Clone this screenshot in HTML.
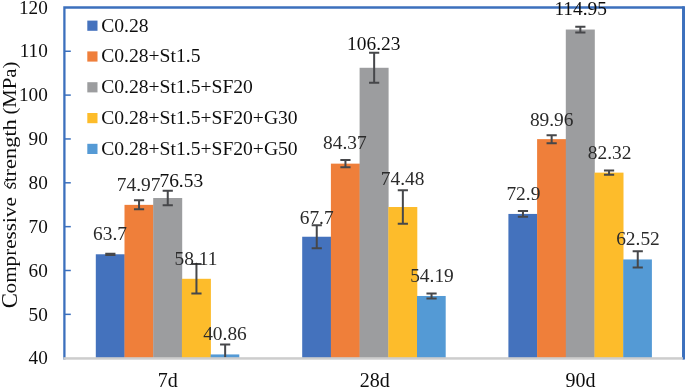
<!DOCTYPE html>
<html><head><meta charset="utf-8"><title>chart</title>
<style>
html,body{margin:0;padding:0;background:#fff;}
body{width:685px;height:389px;overflow:hidden;font-family:"Liberation Serif",serif;}
svg{display:block;}
text{font-family:"Liberation Serif",serif;}
</style></head><body>
<svg width="685" height="389" viewBox="0 0 685 389">
<rect x="0" y="0" width="685" height="389" fill="#ffffff"/>
<rect x="95.80" y="254.28" width="29.00" height="103.92" fill="#4472BD"/>
<rect x="124.50" y="204.86" width="29.00" height="153.34" fill="#EF7F3A"/>
<rect x="153.20" y="198.02" width="29.00" height="160.18" fill="#9C9D9F"/>
<rect x="181.90" y="278.79" width="29.00" height="79.41" fill="#FDBC2B"/>
<rect x="210.60" y="354.43" width="28.70" height="3.77" fill="#549AD5"/>
<rect x="302.20" y="236.74" width="29.00" height="121.46" fill="#4472BD"/>
<rect x="330.90" y="163.64" width="29.00" height="194.56" fill="#EF7F3A"/>
<rect x="359.60" y="67.78" width="29.00" height="290.42" fill="#9C9D9F"/>
<rect x="388.30" y="207.01" width="29.00" height="151.19" fill="#FDBC2B"/>
<rect x="417.00" y="295.98" width="28.70" height="62.22" fill="#549AD5"/>
<rect x="508.40" y="213.93" width="29.00" height="144.27" fill="#4472BD"/>
<rect x="537.10" y="139.13" width="29.00" height="219.07" fill="#EF7F3A"/>
<rect x="565.80" y="29.54" width="29.00" height="328.66" fill="#9C9D9F"/>
<rect x="594.50" y="172.63" width="29.00" height="185.57" fill="#FDBC2B"/>
<rect x="623.20" y="259.45" width="28.70" height="98.75" fill="#549AD5"/>
<path d="M64.4 359.6 L64.4 7.5 L683.4 7.5 L683.4 359.6" fill="none" stroke="#3C70BD" stroke-width="2.3"/>
<rect x="682.1" y="6.35" width="3" height="353" fill="#3C70BD"/>
<line x1="64" y1="314.35" x2="70.8" y2="314.35" stroke="#3C70BD" stroke-width="1.5"/>
<line x1="64" y1="270.50" x2="70.8" y2="270.50" stroke="#3C70BD" stroke-width="1.5"/>
<line x1="64" y1="226.65" x2="70.8" y2="226.65" stroke="#3C70BD" stroke-width="1.5"/>
<line x1="64" y1="182.80" x2="70.8" y2="182.80" stroke="#3C70BD" stroke-width="1.5"/>
<line x1="64" y1="138.95" x2="70.8" y2="138.95" stroke="#3C70BD" stroke-width="1.5"/>
<line x1="64" y1="95.10" x2="70.8" y2="95.10" stroke="#3C70BD" stroke-width="1.5"/>
<line x1="64" y1="51.25" x2="70.8" y2="51.25" stroke="#3C70BD" stroke-width="1.5"/>
<path d="M110.35 253.68 L110.35 254.88 M105.25 253.68 L115.45 253.68 M105.25 254.88 L115.45 254.88" stroke="#46474A" stroke-width="2" fill="none"/>
<path d="M139.05 200.36 L139.05 209.36 M133.95 200.36 L144.15 200.36 M133.95 209.36 L144.15 209.36" stroke="#46474A" stroke-width="2" fill="none"/>
<path d="M167.75 190.82 L167.75 205.22 M162.65 190.82 L172.85 190.82 M162.65 205.22 L172.85 205.22" stroke="#46474A" stroke-width="2" fill="none"/>
<path d="M196.45 263.99 L196.45 293.59 M191.35 263.99 L201.55 263.99 M191.35 293.59 L201.55 293.59" stroke="#46474A" stroke-width="2" fill="none"/>
<path d="M225.15 344.43 L225.15 357.50 M220.05 344.43 L230.25 344.43" stroke="#46474A" stroke-width="2" fill="none"/>
<path d="M316.75 225.34 L316.75 248.14 M311.65 225.34 L321.85 225.34 M311.65 248.14 L321.85 248.14" stroke="#46474A" stroke-width="2" fill="none"/>
<path d="M345.45 159.94 L345.45 167.34 M340.35 159.94 L350.55 159.94 M340.35 167.34 L350.55 167.34" stroke="#46474A" stroke-width="2" fill="none"/>
<path d="M374.15 52.78 L374.15 82.78 M369.05 52.78 L379.25 52.78 M369.05 82.78 L379.25 82.78" stroke="#46474A" stroke-width="2" fill="none"/>
<path d="M402.85 190.21 L402.85 223.81 M397.75 190.21 L407.95 190.21 M397.75 223.81 L407.95 223.81" stroke="#46474A" stroke-width="2" fill="none"/>
<path d="M431.55 293.58 L431.55 298.38 M426.45 293.58 L436.65 293.58 M426.45 298.38 L436.65 298.38" stroke="#46474A" stroke-width="2" fill="none"/>
<path d="M522.95 211.03 L522.95 216.83 M517.85 211.03 L528.05 211.03 M517.85 216.83 L528.05 216.83" stroke="#46474A" stroke-width="2" fill="none"/>
<path d="M551.65 135.13 L551.65 143.13 M546.55 135.13 L556.75 135.13 M546.55 143.13 L556.75 143.13" stroke="#46474A" stroke-width="2" fill="none"/>
<path d="M580.35 26.64 L580.35 32.44 M575.25 26.64 L585.45 26.64 M575.25 32.44 L585.45 32.44" stroke="#46474A" stroke-width="2" fill="none"/>
<path d="M609.05 170.53 L609.05 174.73 M603.95 170.53 L614.15 170.53 M603.95 174.73 L614.15 174.73" stroke="#46474A" stroke-width="2" fill="none"/>
<path d="M637.75 251.35 L637.75 267.55 M632.65 251.35 L642.85 251.35 M632.65 267.55 L642.85 267.55" stroke="#46474A" stroke-width="2" fill="none"/>
<rect x="63.4" y="357.2" width="619.5" height="2.5" fill="#CDCDCD"/>
<defs><filter id="tf" x="-5%" y="-5%" width="110%" height="110%"><feGaussianBlur stdDeviation="0.3"/></filter></defs>
<g filter="url(#tf)">
<text x="47.8" y="364.40" font-size="19.2px" text-anchor="end" fill="#111111">40</text>
<text x="47.8" y="320.55" font-size="19.2px" text-anchor="end" fill="#111111">50</text>
<text x="47.8" y="276.70" font-size="19.2px" text-anchor="end" fill="#111111">60</text>
<text x="47.8" y="232.85" font-size="19.2px" text-anchor="end" fill="#111111">70</text>
<text x="47.8" y="189.00" font-size="19.2px" text-anchor="end" fill="#111111">80</text>
<text x="47.8" y="145.15" font-size="19.2px" text-anchor="end" fill="#111111">90</text>
<text x="47.8" y="101.30" font-size="19.2px" text-anchor="end" fill="#111111">100</text>
<text x="47.8" y="57.45" font-size="19.2px" text-anchor="end" fill="#111111">110</text>
<text x="47.8" y="13.60" font-size="19.2px" text-anchor="end" fill="#111111">120</text>
<text x="167.8" y="387.2" font-size="20px" text-anchor="middle" fill="#111111">7d</text>
<text x="374.75" y="387.2" font-size="20px" text-anchor="middle" fill="#111111">28d</text>
<text x="580.5" y="387.2" font-size="20px" text-anchor="middle" fill="#111111">90d</text>
<text transform="translate(16.2,293.4) rotate(-90)" font-size="19.6px" fill="#111111" textLength="96.2" lengthAdjust="spacingAndGlyphs">ompressive</text>
<text transform="translate(16.2,189.6) rotate(-90)" font-size="19.6px" fill="#111111" textLength="13.2" lengthAdjust="spacingAndGlyphs">st</text>
<text transform="translate(16.2,176.4) rotate(-90)" font-size="19.6px" fill="#111111" textLength="57.2" lengthAdjust="spacingAndGlyphs">rength</text>
<text transform="translate(16.2,114.6) rotate(-90)" font-size="19.6px" fill="#111111" textLength="53.0" lengthAdjust="spacingAndGlyphs">(MPa)</text>
<text transform="translate(16.6,308.3) rotate(-90)" font-size="22.8px" fill="#111111">C</text>
<path d="M8.6 186.6 C3.2 186.6 3.2 180.2 8.2 180.2" fill="none" stroke="#111" stroke-width="0.9"/>
<rect x="87.3" y="20.60" width="10.2" height="10.2" fill="#4472BD"/>
<text x="101.2" y="31.60" font-size="19.6px" fill="#111111">C0.28</text>
<rect x="87.3" y="51.40" width="10.2" height="10.2" fill="#EF7F3A"/>
<text x="101.2" y="62.35" font-size="19.6px" fill="#111111">C0.28+St1.5</text>
<rect x="87.3" y="82.20" width="10.2" height="10.2" fill="#9C9D9F"/>
<text x="101.2" y="93.10" font-size="19.6px" fill="#111111">C0.28+St1.5+SF20</text>
<rect x="87.3" y="113.00" width="10.2" height="10.2" fill="#FDBC2B"/>
<text x="101.2" y="123.85" font-size="19.6px" fill="#111111">C0.28+St1.5+SF20+G30</text>
<rect x="87.3" y="143.80" width="10.2" height="10.2" fill="#549AD5"/>
<text x="101.2" y="154.60" font-size="19.6px" fill="#111111">C0.28+St1.5+SF20+G50</text>
<text x="110.0" y="240" font-size="19.4px" text-anchor="middle" fill="#2b2b2b">63.7</text>
<text x="138.6" y="190.9" font-size="19.4px" text-anchor="middle" fill="#2b2b2b">74.97</text>
<text x="181.3" y="187" font-size="19.4px" text-anchor="middle" fill="#111111">76.53</text>
<text x="196" y="265" font-size="19.4px" text-anchor="middle" fill="#2b2b2b">58.11</text>
<text x="225" y="340.2" font-size="19.4px" text-anchor="middle" fill="#2b2b2b">40.86</text>
<text x="316.7" y="223.7" font-size="19.4px" text-anchor="middle" fill="#2b2b2b">67.7</text>
<text x="344.9" y="149.4" font-size="19.4px" text-anchor="middle" fill="#2b2b2b">84.37</text>
<text x="373.75" y="50.2" font-size="19.4px" text-anchor="middle" fill="#111111">106.23</text>
<text x="402.6" y="185.1" font-size="19.4px" text-anchor="middle" fill="#2b2b2b">74.48</text>
<text x="432" y="281.7" font-size="19.4px" text-anchor="middle" fill="#2b2b2b">54.19</text>
<text x="523.4" y="200" font-size="19.4px" text-anchor="middle" fill="#2b2b2b">72.9</text>
<text x="551.7" y="125.5" font-size="19.4px" text-anchor="middle" fill="#2b2b2b">89.96</text>
<text x="580.7" y="15.4" font-size="19.4px" text-anchor="middle" fill="#111111">114.95</text>
<text x="609.6" y="159.3" font-size="19.4px" text-anchor="middle" fill="#2b2b2b">82.32</text>
<text x="638" y="245.3" font-size="19.4px" text-anchor="middle" fill="#2b2b2b">62.52</text>
</g>
</svg></body></html>
